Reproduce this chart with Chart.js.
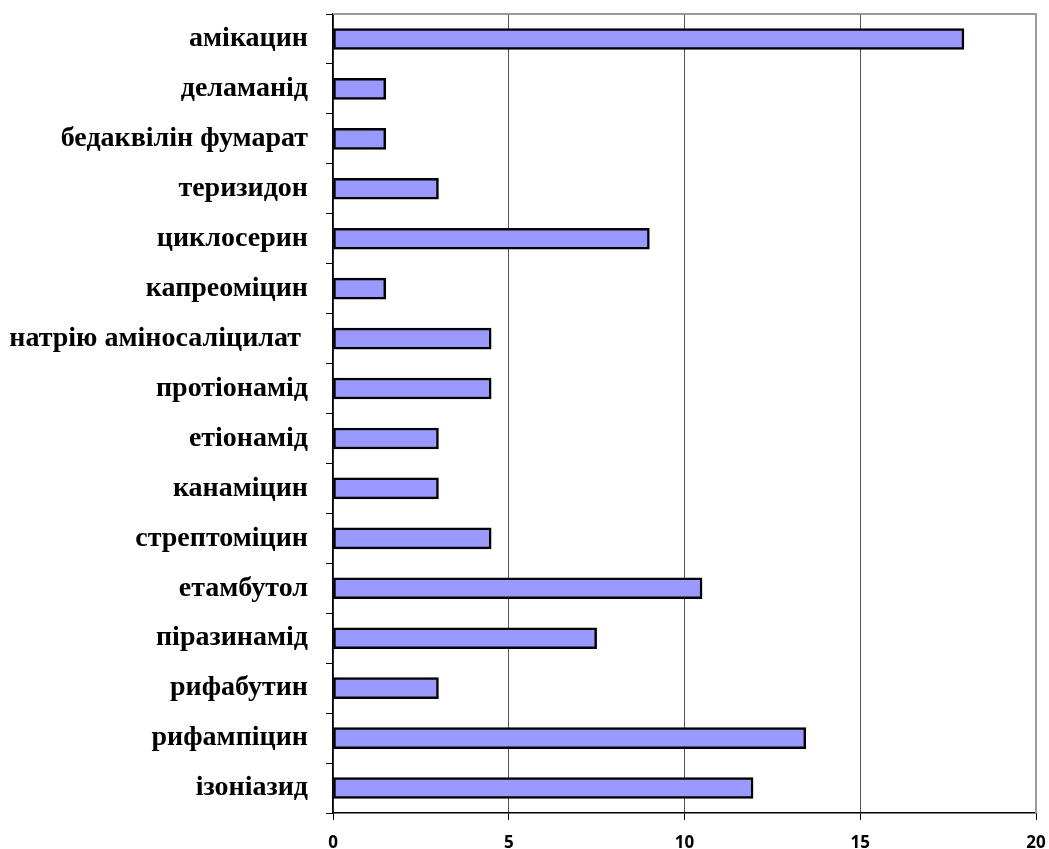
<!DOCTYPE html>
<html>
<head>
<meta charset="utf-8">
<script src="https://cdn.jsdelivr.net/npm/chart.js@4/dist/chart.umd.min.js"></script>
<style>
  html, body { margin: 0; padding: 0; background: #fff; }
  #wrap { width: 1049px; height: 849px; position: relative; }
</style>
</head>
<body>
<div id="wrap"><canvas id="c" width="1049" height="849"></canvas></div>
<script>
const categories = [
  'амікацин',
  'деламанід',
  'бедаквілін фумарат',
  'теризидон',
  'циклосерин',
  'капреоміцин',
  'натрію аміносаліцилат ',
  'протіонамід',
  'етіонамід',
  'канаміцин',
  'стрептоміцин',
  'етамбутол',
  'піразинамід',
  'рифабутин',
  'рифампіцин',
  'ізоніазид'
];
const values = [17.95, 1.5, 1.5, 3.0, 9.0, 1.5, 4.5, 4.5, 3.0, 3.0, 4.5, 10.5, 7.5, 3.0, 13.45, 11.95];
const xTicks = [0, 5, 10, 15, 20];

const frame = {
  id: 'frame',
  afterDraw(chart) {
    const a = chart.chartArea, ctx = chart.ctx;
    ctx.save();
    ctx.strokeStyle = '#999999';
    ctx.lineWidth = 2;
    ctx.beginPath();
    ctx.moveTo(a.left, a.top);
    ctx.lineTo(a.right, a.top);
    ctx.lineTo(a.right, a.bottom);
    ctx.stroke();
    ctx.restore();
  }
};

new Chart(document.getElementById('c'), {
  type: 'bar',
  data: {
    labels: categories,
    datasets: [{
      data: values,
      backgroundColor: '#9999ff',
      borderColor: '#000000',
      borderWidth: 2.5,
      borderSkipped: false,
      barThickness: 21
    }]
  },
  options: {
    indexAxis: 'y',
    responsive: false,
    animation: false,
    devicePixelRatio: 1,
    layout: { padding: { left: 0, right: 13, top: 14, bottom: 0 } },
    plugins: { legend: { display: false }, tooltip: { enabled: false } },
    scales: {
      x: {
        min: 0, max: 20,
        afterFit(s) { s.height = 36; s.paddingLeft = 0; s.paddingRight = 0; },
        afterBuildTicks(s) { s.ticks = xTicks.map(v => ({ value: v })); },
        ticks: {
          color: '#000',
          font: { family: 'Open Sans', weight: 'bold', size: 17 },
          padding: 13,
          maxRotation: 0
        },
        grid: {
          color: (c) => (c.tick && c.tick.value === 20) ? '#999999' : '#555555',
          lineWidth: 1,
          tickLength: 7,
          tickColor: '#000'
        },
        border: { color: '#000', width: 1.5 }
      },
      y: {
        afterFit(s) { s.width = 333; s.paddingTop = 0; s.paddingBottom = 0; },
        ticks: {
          color: '#000',
          font: { family: 'Liberation Serif', weight: 'bold', size: 28 },
          padding: 18,
          autoSkip: false
        },
        grid: {
          offset: true,
          drawOnChartArea: false,
          drawTicks: true,
          tickLength: 7,
          tickColor: '#000'
        },
        border: { color: '#000', width: 1.5 }
      }
    }
  },
  plugins: [frame]
});
</script>
</body>
</html>
